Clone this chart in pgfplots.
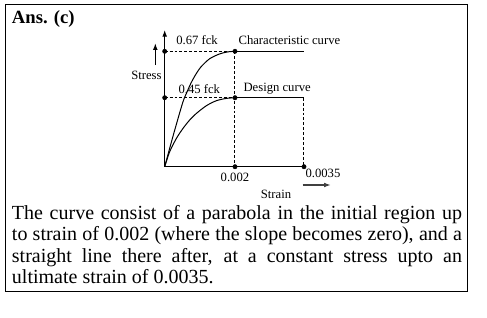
\documentclass[border=0pt]{standalone}
\usepackage{pgfplots}
\pgfplotsset{compat=1.18}
\usetikzlibrary{arrows.meta}
\usepackage{fontspec}
\setmainfont{Liberation Serif}
\begin{document}
\begin{tikzpicture}[x=0.75pt,y=-0.75pt]
\path[use as bounding box] (0,0) rectangle (487,318);
\draw[line width=0.75pt] (5.5,4.6) rectangle (467.3,291);
\node[anchor=base west,inner sep=0,font=\fontsize{14}{16}\selectfont\bfseries] at (11.7,23.3) {Ans. (c)};
\coordinate (O) at (164.7,166.7);
\begin{axis}[at={(O)}, anchor=south west, x=0.75pt, y=0.75pt,
  xmin=0, xmax=139.3, ymin=0, ymax=136.7, enlargelimits=false,
  axis lines=left, clip=false, xtick=\empty, ytick=\empty,
  x axis line style={-, line width=0.75pt},
  y axis line style={-{Latex[length=5pt,width=3.6pt]}, line width=0.75pt},
  guide/.style={dash pattern=on 2.2pt off 1.5pt, line width=0.75pt, black}]
% characteristic curve
\addplot[smooth, line width=0.75pt, black] coordinates {(0,0) (9,33) (18,64) (22,74) (26,83) (30,90.5) (36,99.5) (45,108) (55,112.8) (63,114.8) (70.3,115.4)};
\addplot[line width=0.75pt, black] coordinates {(70.3,115.4) (139.3,115.4)};
% design curve
\addplot[smooth, line width=0.75pt, black] coordinates {(0,0) (5,15) (11.7,28.3) (18.3,38.3) (25,46.7) (31.7,53.3) (41.7,61) (51.7,66) (61.7,68.3) (70.3,69)};
\addplot[line width=0.75pt, black] coordinates {(70.3,69) (139.3,69)};
% dashed guides
\addplot[guide] coordinates {(0,115.4) (70.3,115.4)};
\addplot[guide] coordinates {(0,69) (70.3,69)};
\addplot[guide] coordinates {(70.3,115.4) (70.3,0)};
\addplot[guide] coordinates {(139.3,69) (139.3,0)};
% dots
\addplot[only marks, mark=*, mark size=1.6pt, black] coordinates {(0,115.4) (70.3,115.4) (0,69) (70.3,69) (70.3,0) (139.3,0)};
\end{axis}
\begin{scope}[every node/.style={inner sep=0, font=\fontsize{9.5}{11}\selectfont}]
\node[anchor=base west] at (176,44.7) {0.67 fck};
\node[anchor=base west] at (238.3,44.7) {Characteristic curve};
\node[anchor=base west] at (178.3,93.5) {0.45 fck};
\node[anchor=base west] at (243.3,91.3) {Design curve};
\node[anchor=base west] at (131,79.3) {Stress};
\node[anchor=base] at (235,181.5) {0.002};
\node[anchor=base west] at (305.3,177.5) {0.0035};
\node[anchor=base] at (276,198.5) {Strain};
\end{scope}
\draw[line width=0.75pt, -{Latex[length=5pt,width=3.6pt]}] (155.3,65) -- (155.3,43.3);
\draw[line width=0.9pt, black!75, -{Latex[length=5pt,width=3.6pt]}] (302.7,185) -- (330.7,185);
\node[anchor=north west, inner sep=0, text width=337.5pt, align=justify,
  font=\fontsize{15}{16}\selectfont] at (11.7,204.4)
  {\strut The curve consist of a parabola in the initial region up\linebreak
   to strain of 0.002 (where the slope becomes zero), and a\linebreak
   straight line there after, at a constant stress upto an\linebreak
   ultimate strain of 0.0035.};
\end{tikzpicture}
\end{document}
